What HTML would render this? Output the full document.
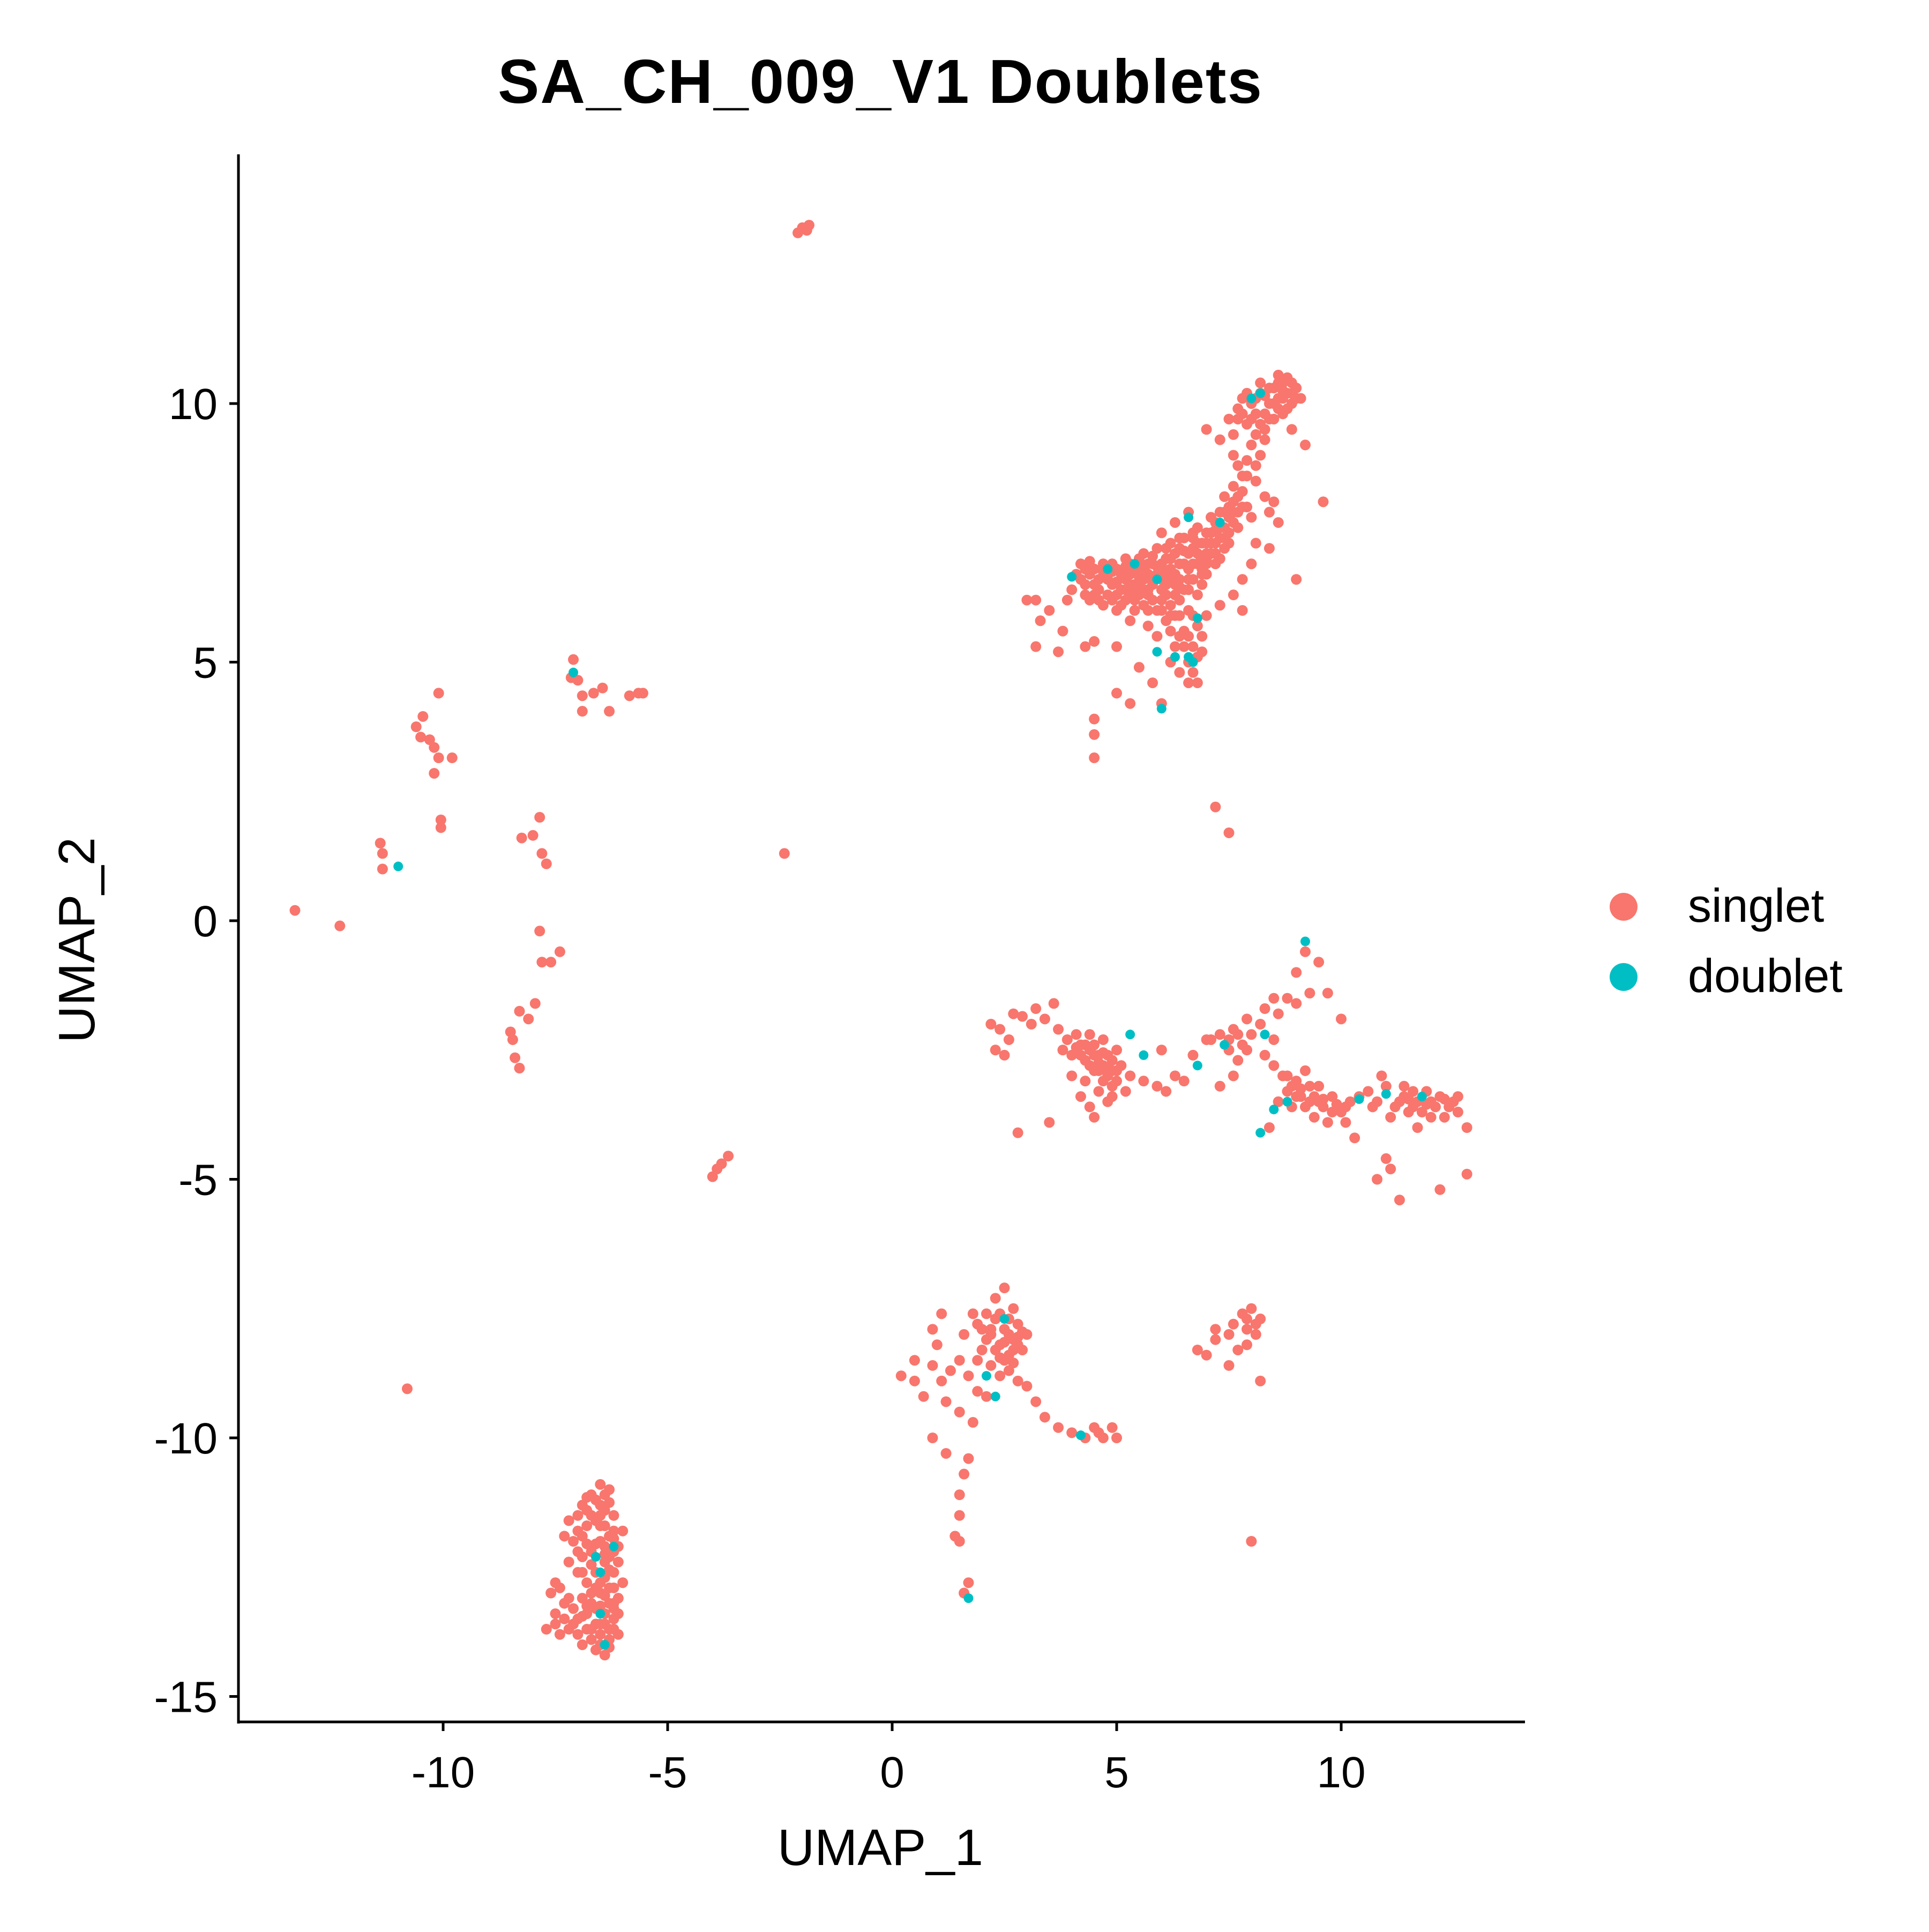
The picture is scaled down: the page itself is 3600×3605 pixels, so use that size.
<!DOCTYPE html>
<html><head><meta charset="utf-8"><style>
html,body{margin:0;padding:0;background:#fff;}
svg text{font-family:"Liberation Sans","DejaVu Sans",sans-serif;}
</style></head><body>
<svg id="chart" width="3600" height="3600" viewBox="0 0 3600 3600" xmlns="http://www.w3.org/2000/svg">
<rect width="3600" height="3600" fill="#fff"/>
<text x="1643" y="192" font-size="116" font-weight="bold" text-anchor="middle" letter-spacing="2">SA_CH_009_V1 Doublets</text>
<g id="points"></g>
<g id="axes"></g>
<text x="1643" y="3480" font-size="96" text-anchor="middle">UMAP_1</text>
<text x="0" y="0" font-size="96" text-anchor="middle" transform="translate(176,1754) rotate(-90)">UMAP_2</text>
<g>
<circle cx="3030" cy="1692" r="26" fill="#F8766D"/>
<text x="3150" y="1720" font-size="88">singlet</text>
<circle cx="3030" cy="1823" r="26" fill="#00BFC4"/>
<text x="3150" y="1851" font-size="88">doublet</text>
</g>
</svg>
<script>
const xTicks = [-10,-5,0,5,10];
const yTicks = [10,5,0,-5,-10,-15];
const singlet = [
[-2.0,13.4],[-1.9,13.35],[-2.1,13.3],[-1.85,13.45],
[-13.3,0.2],[-12.3,-0.1],[-11.4,1.5],[-11.35,1.3],[-11.35,1.0],[-10.8,-9.05],
[-10.45,3.95],[-10.6,3.75],[-10.5,3.55],[-10.3,3.5],[-10.2,3.35],[-10.1,3.15],[-10.2,2.85],[-9.8,3.15],[-10.1,4.4],[-10.05,1.95],[-10.05,1.8],
[-7.15,4.7],[-7.1,5.05],[-7.0,4.65],[-6.9,4.35],[-6.9,4.05],[-6.65,4.4],[-6.45,4.5],[-6.3,4.05],[-5.85,4.35],[-5.65,4.4],[-5.55,4.4],
[-7.85,2.0],[-8.25,1.6],[-8.0,1.65],[-7.8,1.3],[-7.7,1.1],[-7.85,-0.2],[-7.8,-0.8],[-7.6,-0.8],[-7.4,-0.6],[-8.3,-1.75],[-8.1,-1.9],[-7.95,-1.6],[-8.5,-2.15],[-8.4,-2.65],[-8.3,-2.85],[-8.45,-2.3],
[-2.4,1.3],[-4.0,-4.95],[-3.9,-4.8],[-3.8,-4.7],[-3.65,-4.55],
[4.1,6.7],[4.3,6.5],[4.5,6.8],[4.2,6.9],[4.6,6.4],[4.8,6.6],[4.9,6.9],[5.0,6.3],[5.1,6.7],[5.2,7.0],[5.3,6.5],[5.4,6.2],[5.5,6.8],[5.6,7.1],[5.7,6.4],[5.8,6.9],[5.9,7.2],[6.0,6.6],[6.1,7.0],[6.2,7.3],[6.3,6.5],[6.4,6.9],[6.5,7.4],[6.6,6.8],[6.7,7.2],[6.8,7.6],[6.9,7.0],[7.0,7.5],[7.1,7.8],[7.2,7.3],[7.3,7.9],[7.4,7.6],[7.5,8.0],[7.6,7.7],[7.7,8.2],[4.4,6.2],[4.7,6.1],[5.0,6.0],[5.3,6.9],[5.6,6.1],[5.9,6.0],[6.2,6.1],[6.4,6.2],[6.6,6.0],[6.8,6.3],[7.0,6.7],[7.2,6.9],[6.0,7.5],[6.3,7.7],[6.6,7.9],[5.8,6.5],[5.5,6.5],[6.1,6.3],[6.9,6.5],[7.4,7.2],[4.0,6.4],[4.5,6.3],[5.2,6.2],[6.7,6.6],[7.1,7.1],
[4.2,6.6],[4.4,6.7],[4.6,6.6],[4.7,6.9],[4.9,6.5],[5.0,6.8],[5.1,6.4],[5.2,6.6],[5.4,6.5],[5.4,6.8],[5.5,6.3],[5.6,6.6],[5.7,6.9],[5.8,6.2],[5.9,6.7],[6.0,6.9],[6.1,6.5],[6.2,6.8],[6.3,7.1],[6.4,6.6],[6.5,6.9],[6.5,6.4],[6.6,7.1],[6.7,7.5],[6.8,6.9],[6.9,7.3],[7.0,7.1],[7.1,7.5],[7.2,7.7],[7.3,7.4],[7.4,7.9],[7.5,7.5],[7.6,8.1],[7.7,7.9],[5.3,6.3],[5.6,6.4],[6.0,6.2],[6.2,6.6],[6.4,7.4],[6.8,7.3],[7.0,7.0],[5.7,6.7],[4.8,6.3],[4.5,6.5],[4.3,6.8],[6.3,6.3],[6.6,6.4],[6.9,6.8],[7.3,7.0],[7.5,7.3],
[4.3,6.3],[4.6,6.2],[4.9,6.2],[5.1,6.1],[5.4,6.0],[5.7,6.0],[6.0,6.0],[6.3,5.9],[5.2,6.85],[5.5,7.0],[5.8,7.05],[6.1,7.2],[6.4,7.2],[6.7,7.4],[7.0,7.3],[7.2,7.55],[7.5,7.8],[7.7,7.6],[4.4,6.95],[4.7,6.75],[5.0,6.55],[5.3,6.7],[5.6,6.85],[5.9,6.85],[6.2,7.0],[6.5,7.15],[6.8,7.1],[7.1,7.3],[7.3,7.6],[5.4,6.4],[5.7,6.3],[6.0,6.4],[6.3,6.7],[6.6,6.6],[6.9,6.7],[7.2,7.1],[4.9,6.75],[5.2,6.4],[5.5,6.65],[5.8,6.6],[6.1,6.75],[6.4,6.45],[6.7,6.9],[7.0,6.9],[7.4,7.4],[7.6,7.9],[7.8,8.0],
[5.9,5.5],[6.1,5.8],[6.3,5.3],[6.5,5.6],[6.6,5.0],[6.7,5.3],[6.8,5.7],[6.9,5.2],[7.0,5.9],[6.4,4.8],[6.6,4.6],[6.2,5.0],[5.7,5.7],[6.0,4.2],[5.5,4.9],[5.0,5.3],[5.3,5.8],[7.3,6.1],[7.6,6.3],[7.8,6.0],[6.8,4.6],[6.4,5.9],[6.7,5.9],[6.5,5.3],[6.9,5.5],[6.2,5.6],[6.6,5.5],[6.8,5.1],[6.7,4.8],[6.4,5.5],[6.2,5.9],
[3.0,6.2],[3.2,6.2],[3.5,6.0],[3.9,6.2],[3.3,5.8],[3.8,5.6],[4.3,5.3],[3.2,5.3],[3.7,5.2],[4.5,5.4],[4.5,3.9],[4.5,3.6],[4.5,3.15],[5.3,4.2],[5.0,4.4],[5.8,4.6],[7.2,2.2],[7.5,1.7],[9.0,6.6],[9.6,8.1],[8.1,7.3],[8.4,7.2],[8.0,6.9],[7.8,6.6],[8.6,7.7],
[7.6,8.4],[7.8,8.6],[7.9,8.9],[8.0,9.2],[8.2,9.0],[7.7,8.8],[8.1,8.5],[8.3,8.2],[7.9,8.0],[8.0,7.8],[8.4,7.9],[8.5,8.1],[7.4,8.2],[7.6,9.0],[7.3,9.3],[7.0,9.5],[7.8,8.3],[7.9,8.6],[8.1,8.8],
[7.5,9.7],[7.7,9.9],[7.8,10.1],[7.9,9.6],[8.0,10.0],[8.1,9.8],[8.2,10.2],[8.3,9.5],[8.4,10.0],[8.5,10.3],[8.6,10.1],[8.7,10.4],[8.8,10.2],[8.9,10.0],[9.0,10.3],[9.1,10.1],[8.5,9.7],[8.7,9.8],[8.3,9.3],[8.1,9.4],[7.6,9.4],[8.9,9.5],[9.2,9.2],[8.8,10.5],[8.2,10.4],[8.4,10.3],[8.6,10.4],[8.7,10.1],[8.9,10.2],[8.3,9.8],[8.0,9.7],[7.8,9.8],[8.6,9.9],
[8.5,10.0],[8.7,10.25],[8.9,10.4],[9.0,10.1],[8.4,9.7],[8.2,9.6],[8.1,10.1],[7.9,10.2],[7.7,9.7],[8.3,10.15],[8.6,10.55],[8.8,9.9],
[2.2,-2.0],[2.4,-2.1],[2.7,-1.8],[2.9,-1.85],[3.2,-1.7],[3.4,-1.9],[3.6,-1.6],[2.3,-2.5],[2.5,-2.6],[2.8,-4.1],[3.5,-3.9],[2.6,-2.3],[3.1,-2.0],
[3.7,-2.1],[3.9,-2.3],[4.0,-2.6],[4.2,-2.4],[4.3,-2.7],[4.4,-2.5],[4.5,-2.9],[4.6,-2.6],[4.7,-2.8],[4.8,-3.0],[4.9,-2.7],[5.0,-3.1],[4.1,-2.2],[4.4,-2.2],[4.6,-3.3],[4.8,-3.5],[4.4,-3.6],[4.2,-3.4],[4.5,-3.8],[5.1,-2.8],[5.2,-3.3],[3.8,-2.5],[4.0,-3.0],[4.7,-2.3],[4.3,-3.1],[5.0,-2.5],[5.3,-3.0],[4.5,-2.6],[4.6,-2.9],[4.8,-2.6],[4.9,-3.2],[4.3,-2.4],[4.7,-3.1],
[4.4,-2.8],[4.5,-2.4],[4.6,-2.75],[4.7,-2.55],[4.8,-2.85],[4.9,-2.9],[4.2,-2.6],[4.1,-2.45],[4.9,-3.4],[5.0,-2.9],
[5.6,-3.1],[5.9,-3.2],[6.1,-3.3],[6.3,-3.0],[6.5,-3.1],[6.7,-2.6],[7.1,-2.3],[7.3,-3.2],[7.6,-3.0],[6.0,-2.5],
[7.0,-2.3],[7.3,-2.2],[7.5,-2.5],[7.6,-2.1],[7.8,-2.4],[7.9,-1.9],[8.0,-2.2],[8.2,-2.0],[8.3,-2.6],[8.5,-2.3],[8.5,-1.5],[8.6,-1.8],[8.8,-1.5],[9.0,-1.6],[9.3,-1.4],[9.2,-0.6],[9.5,-0.8],[9.0,-1.0],[9.7,-1.4],[10.0,-1.9],[8.3,-1.7],[7.7,-2.7],[7.5,-2.3],[7.7,-2.2],[7.9,-2.5],
[8.5,-2.8],[8.7,-3.0],[8.8,-3.3],[9.0,-3.1],[9.1,-3.4],[9.3,-3.5],[9.5,-3.2],[9.6,-3.6],[9.8,-3.4],[10.0,-3.7],[10.2,-3.5],[10.4,-3.4],[8.9,-3.6],[9.2,-2.9],[9.4,-3.8],[9.7,-3.9],[10.1,-3.9],[10.3,-4.2],[8.6,-3.5],[8.4,-4.0],[9.0,-3.4],[9.3,-3.2],[9.5,-3.5],[9.8,-3.7],[8.8,-3.0],
[9.1,-3.25],[9.4,-3.4],[9.6,-3.45],[9.9,-3.55],[10.1,-3.6],[9.2,-3.6],[8.9,-3.2],
[10.6,-3.3],[10.8,-3.5],[11.0,-3.2],[11.2,-3.6],[11.4,-3.4],[11.6,-3.3],[11.8,-3.7],[12.0,-3.5],[12.2,-3.4],[12.4,-3.6],[12.6,-3.4],[11.1,-3.8],[11.5,-3.7],[11.9,-3.3],[12.3,-3.8],[10.9,-3.0],[12.8,-4.0],[11.0,-4.6],[11.1,-4.8],[11.3,-5.4],[10.8,-5.0],[12.2,-5.2],[12.8,-4.9],[11.7,-4.0],[11.4,-3.2],[11.3,-3.5],[11.7,-3.5],[12.1,-3.6],[12.5,-3.5],[10.7,-3.6],
[11.5,-3.45],[11.9,-3.55],[12.3,-3.45],[12.0,-3.8],[11.6,-3.6],[12.6,-3.7],
[1.9,-7.8],[2.1,-7.6],[2.2,-8.0],[2.3,-7.7],[2.4,-8.2],[2.5,-7.9],[2.6,-8.4],[2.7,-8.1],[2.8,-7.8],[2.9,-8.3],[3.0,-8.0],[2.0,-8.3],[2.2,-8.6],[2.4,-8.8],[2.6,-8.7],[2.8,-8.9],[2.5,-7.1],[2.3,-7.3],[2.7,-7.5],[1.8,-7.6],[1.6,-8.0],[1.5,-8.5],[1.7,-8.8],[1.9,-9.1],[2.1,-9.2],[1.3,-8.7],[1.1,-8.9],[0.9,-8.6],[1.0,-8.2],[0.9,-7.9],[1.1,-7.6],[1.2,-9.3],[1.5,-9.5],[1.8,-9.7],[2.6,-8.0],[2.7,-8.3],[2.5,-8.5],[2.3,-8.3],[2.8,-8.2],[2.4,-7.6],
[2.6,-7.7],[2.8,-8.05],[2.9,-7.95],[2.5,-8.15],[2.4,-8.45],[2.7,-8.55],[2.2,-7.9],[2.0,-7.9],[1.9,-8.5],[2.1,-8.1],
[0.2,-8.8],[0.5,-8.9],[0.7,-9.2],[0.9,-10.0],[1.2,-10.3],[0.5,-8.5],
[3.0,-9.0],[3.2,-9.3],[3.4,-9.6],[3.7,-9.8],[4.0,-9.9],[4.3,-10.0],[4.5,-9.8],[4.7,-10.0],[4.9,-9.8],[5.0,-10.0],[4.6,-9.9],
[1.7,-10.4],[1.6,-10.7],[1.5,-11.1],[1.5,-11.5],[1.4,-11.9],[1.5,-12.0],[1.7,-12.8],[1.6,-13.0],
[6.8,-8.3],[7.0,-8.4],[7.2,-8.1],[7.5,-8.0],[7.6,-7.8],[7.7,-8.3],[7.8,-7.6],[7.9,-7.9],[8.0,-7.5],[8.1,-8.0],[8.2,-7.7],[7.9,-8.2],[7.5,-8.6],[8.2,-8.9],[8.0,-12.0],[7.2,-7.9],[7.9,-7.7],[8.1,-7.8],
[-6.5,-10.9],[-6.3,-11.0],[-6.7,-11.1],[-6.9,-11.3],[-6.4,-11.4],[-6.2,-11.5],[-6.6,-11.6],[-6.8,-11.7],[-7.0,-11.8],[-7.2,-11.6],[-6.3,-11.9],[-6.5,-12.0],[-6.1,-12.1],[-6.7,-12.2],[-6.9,-12.3],[-7.1,-12.0],[-7.3,-11.9],[-6.4,-12.4],[-6.2,-12.6],[-6.6,-12.6],[-6.8,-12.8],[-6.3,-12.9],[-6.5,-13.0],[-6.1,-13.1],[-6.7,-13.2],[-6.9,-13.1],[-7.1,-13.3],[-7.3,-13.2],[-7.5,-13.4],[-7.6,-13.0],[-7.4,-12.9],[-6.4,-13.4],[-6.2,-13.5],[-6.6,-13.6],[-6.8,-13.7],[-7.0,-13.5],[-7.2,-13.7],[-7.4,-13.8],[-6.3,-13.9],[-6.5,-14.0],[-6.1,-13.8],[-6.7,-13.9],[-6.9,-14.0],[-6.4,-14.2],[-7.7,-13.7],[-6.0,-11.8],[-6.0,-12.8],[-6.2,-12.2],[-7.0,-12.6],[-7.2,-12.4],[-6.5,-11.3],[-6.8,-11.4],[-6.3,-12.3],[-6.6,-12.9],[-7.5,-12.8],[-6.4,-11.7],[-6.1,-13.4],[-6.7,-13.0],
[-6.6,-11.2],[-6.4,-11.1],[-6.2,-11.8],[-6.5,-11.7],[-6.9,-11.9],[-6.7,-11.5],[-6.4,-12.1],[-6.2,-12.9],[-6.4,-12.7],[-6.6,-13.3],[-6.3,-13.2],[-6.5,-13.6],[-6.2,-13.2],[-6.8,-13.4],[-7.0,-13.8],[-6.6,-14.1],[-6.3,-13.7],[-7.2,-13.1],[-6.9,-12.6],[-6.1,-12.4],
[-6.3,-11.25],[-6.5,-11.5],[-6.2,-11.95],[-6.4,-12.25],[-6.6,-12.05],[-6.8,-12.05],[-7.0,-12.2],[-6.3,-12.55],[-6.5,-12.8],[-6.7,-12.45],[-6.4,-13.05],[-6.2,-13.3],[-6.5,-13.25],[-6.8,-13.25],[-6.4,-13.6],[-6.2,-13.7],[-6.5,-13.8],[-7.1,-13.6],[-7.3,-13.5],[-6.9,-13.45],[-6.7,-13.7],[-7.5,-13.6],[-6.3,-14.05],[-6.8,-11.15],[-7.0,-11.5]
];
const doublet = [
[-11.0,1.05],[-7.1,4.8],
[4.0,6.65],[5.4,6.9],[5.9,6.6],[6.8,5.85],[6.6,5.1],[6.7,5.0],[5.9,5.2],[6.3,5.1],[6.0,4.1],[7.3,7.7],[8.0,10.1],[8.2,10.2],[6.6,7.8],[4.8,6.8],
[9.2,-0.4],[5.3,-2.2],[5.6,-2.6],[6.8,-2.8],[7.4,-2.4],[8.3,-2.2],[8.2,-4.1],[8.5,-3.65],[10.4,-3.45],[11.0,-3.35],[11.8,-3.4],[8.8,-3.5],
[2.5,-7.7],[2.1,-8.8],[2.3,-9.2],[4.2,-9.95],[1.7,-13.1],
[-6.6,-12.3],[-6.2,-12.1],[-6.5,-13.4],[-6.4,-14.0],[-6.5,-12.6]
];
const NS='http://www.w3.org/2000/svg';
function sx(v){return 1665 + 83.8*v;}
function sy(v){return 1718 - 96.5*v;}
const pts=document.getElementById('points');
const axes=document.getElementById('axes');
function mk(tag,attrs,parent){const e=document.createElementNS(NS,tag);for(const k in attrs)e.setAttribute(k,attrs[k]);parent.appendChild(e);return e;}
singlet.forEach(p=>{
  const c=mk('circle',{cx:sx(p[0]),cy:sy(p[1]),r:10,fill:'#F8766D'},pts);
  
  
});
doublet.forEach(p=>{
  const c=mk('circle',{cx:sx(p[0]),cy:sy(p[1]),r:9,fill:'#00BFC4'},pts);
  
  
});
const yl=mk('line',{x1:445,y1:288,x2:445,y2:3216,stroke:'#000','stroke-width':5},axes);


const xl=mk('line',{x1:443,y1:3213,x2:2846,y2:3213,stroke:'#000','stroke-width':5},axes);


xTicks.forEach(t=>{
  const l=mk('line',{x1:sx(t),y1:3213,x2:sx(t),y2:3230,stroke:'#000','stroke-width':5},axes);
  
  
  const tx=mk('text',{x:sx(t),y:3335,'font-size':82,'text-anchor':'middle',fill:'#000'},axes);
  tx.textContent=String(t);
  
  
});
yTicks.forEach(t=>{
  const l=mk('line',{x1:428,y1:sy(t),x2:445,y2:sy(t),stroke:'#000','stroke-width':5},axes);
  
  
  const tx=mk('text',{x:406,y:sy(t)+29,'font-size':82,'text-anchor':'end',fill:'#000'},axes);
  tx.textContent=String(t);
  
  
});
</script>
</body></html>
